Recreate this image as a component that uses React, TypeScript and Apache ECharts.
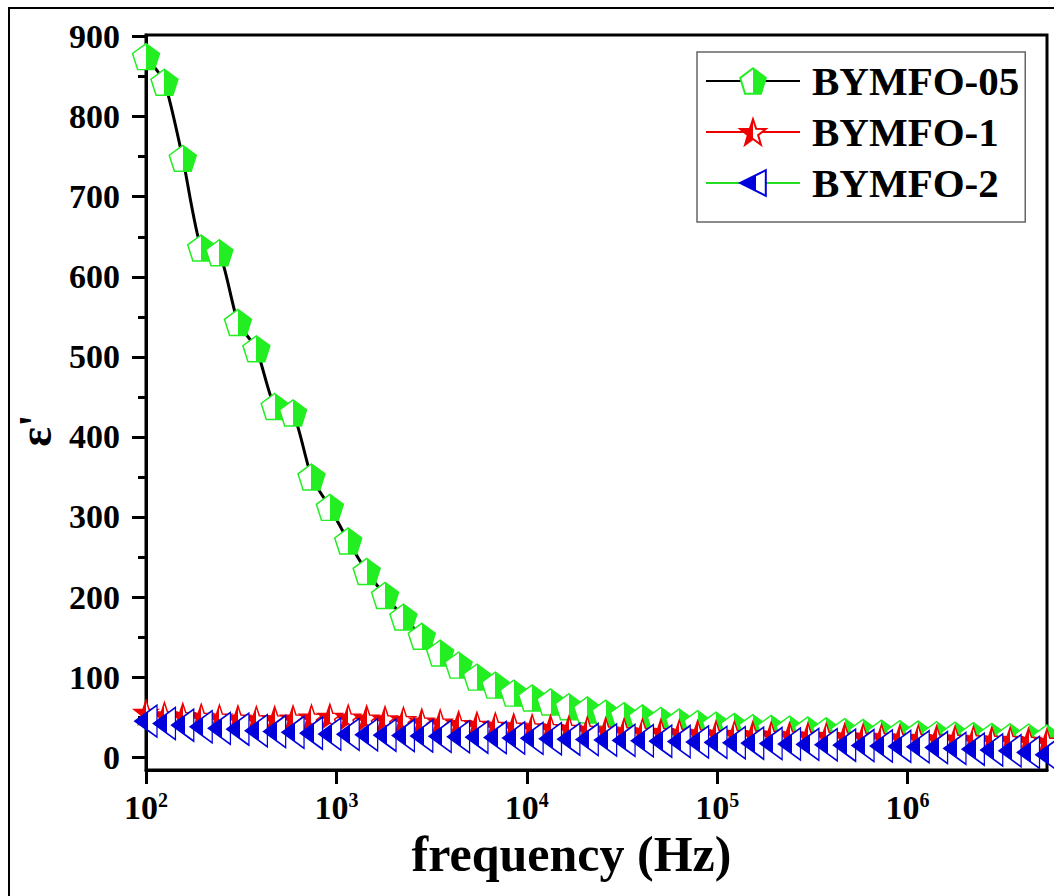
import React, { useEffect, useRef } from 'react';
import * as echarts from 'echarts';

// ---------------- data ----------------
const FREQUENCY_HZ = [
  100, 125, 156, 195, 243, 304, 380, 474, 592, 740,
  924, 1154, 1442, 1801, 2249, 2809, 3509, 4383, 5474, 6837,
  8540, 10667, 13323, 16641, 20785, 25961, 32426, 40500, 50585, 63181,
  78913, 98563, 123105, 153758, 192044, 239862, 299588, 374185, 467357, 583729,
  729078, 910618, 1137362, 1420565, 1774286, 2216083, 2767888, 3457092, 4317908, 5393067,
];

const BYMFO_05 = [
  875, 843, 748, 636, 630, 543, 510, 438, 430, 350,
  312, 270, 232, 202, 175, 151, 130, 115, 100, 90,
  80, 74, 69, 63, 59, 55, 52, 49, 46, 44,
  42, 40, 38.5, 37, 36, 35, 34, 33, 32, 31,
  30, 29.5, 29, 28, 27.5, 27, 26, 25.5, 25, 24,
];

const BYMFO_1 = [
  56, 53, 52, 51, 50, 49, 48, 48, 49, 50,
  51, 50, 49, 48, 47, 45, 44, 42, 41, 40,
  39, 38, 37, 36, 35, 34, 33, 32.5, 32, 31,
  30.5, 30, 29.5, 29, 28.5, 28, 27.5, 27, 26.5, 26,
  25.5, 25, 24.5, 24, 23.5, 23, 22.5, 22, 21, 20,
];

const BYMFO_2 = [
  45, 42, 40, 38, 36, 35, 33, 32, 31, 30,
  29, 28.5, 28, 27.5, 27, 26.5, 26, 25.5, 25, 24.5,
  24, 23.5, 23, 22.5, 22, 21.5, 21, 20.5, 20, 19.5,
  19, 18.5, 18, 17.5, 17, 16.5, 16, 15.5, 15, 14.5,
  14, 13.5, 13, 12, 11, 10, 9, 8, 6, 3,
];

const SERIES_NAMES = ['BYMFO-05', 'BYMFO-1', 'BYMFO-2'];
const X_TICKS = [100, 1000, 10000, 100000, 1000000];
const Y_TICKS = [0, 100, 200, 300, 400, 500, 600, 700, 800, 900];
const Y_MINOR_TICKS = [50, 150, 250, 350, 450, 550, 650, 750, 850];

// ---------------- styling ----------------
const SERIF = '"Liberation Serif", "Times New Roman", Times, serif';

const PENTAGON = 'path://M50 2 L97.6 36.5 L79.4 92.5 L20.6 92.5 L2.4 36.5 Z';
const STAR =
  'path://M50 2 L61.76 35.82 L97.55 36.55 L69.02 58.18 L79.39 92.45 L50 72 L20.61 92.45 L30.98 58.18 L2.45 36.55 L38.24 35.82 Z';
const TRIANGLE_LEFT = 'path://M0 50 L100 0 L100 100 Z';

// hard-stop horizontal gradient: one half coloured, other half white
const halfFill = (left: string, right: string, split: number) =>
  new echarts.graphic.LinearGradient(0, 0, 1, 0, [
    { offset: 0, color: left },
    { offset: split, color: left },
    { offset: split, color: right },
    { offset: 1, color: right },
  ]);

const GREEN = '#22ee22';
const RED = '#ee0000';
const BLUE = '#0000dd';

export default function App() {
  const ref = useRef<HTMLDivElement>(null);

  useEffect(() => {
    if (!ref.current) return;
    const chart = echarts.init(ref.current, undefined, { renderer: 'svg' });

    const pairs = (ys: number[]) => FREQUENCY_HZ.map((f, i) => [f, ys[i]]);

    const option: any = {
      animation: false,
      backgroundColor: '#ffffff',
      graphic: [
        {
          type: 'rect',
          silent: true,
          z: 100,
          shape: { x: 9, y: 8, width: 1300, height: 1000 },
          style: { fill: 'none', stroke: '#000', lineWidth: 2 },
        },
      ],
      grid: {
        left: 146,
        top: 35,
        right: 7,
        bottom: 126,
        show: true,
        borderColor: '#000',
        borderWidth: 3,
        backgroundColor: 'transparent',
      },
      legend: {
        orient: 'vertical',
        left: 697,
        top: 52,
        padding: [8, 6, 18, 8],
        itemWidth: 94,
        itemHeight: 32,
        itemGap: 9,
        backgroundColor: '#fff',
        borderColor: '#666',
        borderWidth: 1.5,
        data: SERIES_NAMES,
        textStyle: {
          fontSize: 41,
          fontWeight: 'bold',
          fontFamily: SERIF,
          color: '#000',
          lineHeight: 42,
          padding: [0, 0, 0, 7],
        },
      },
      xAxis: {
        type: 'log',
        logBase: 10,
        min: 100,
        max: 5.4e6,
        axisLine: { show: true, onZero: false, lineStyle: { color: '#000', width: 3 } },
        axisTick: {
          show: true,
          customValues: X_TICKS,
          length: 14,
          lineStyle: { color: '#000', width: 3 },
        },
        minorTick: { show: false },
        splitLine: { show: false },
        axisLabel: {
          customValues: X_TICKS,
          margin: 20,
          formatter: (v: number) => {
            const e = Math.round(Math.log10(v));
            if (Math.abs(Math.pow(10, e) - v) / v > 1e-6) return '';
            return '{b|10}{s|' + e + '}';
          },
          rich: {
            b: { fontSize: 34, fontWeight: 'bold', fontFamily: SERIF, color: '#000' },
            s: { fontSize: 20, fontWeight: 'bold', fontFamily: SERIF, color: '#000', verticalAlign: 'top' },
          },
        },
        name: 'frequency (Hz)',
        nameLocation: 'middle',
        nameGap: 33,
        nameTextStyle: {
          fontSize: 50,
          fontWeight: 'bold',
          fontFamily: SERIF,
          color: '#000',
          padding: [0, 50, 0, 0],
        },
      },
      yAxis: [
        {
          type: 'value',
          min: -16,
          max: 902,
          position: 'left',
          axisLine: { show: true, onZero: false, lineStyle: { color: '#000', width: 3 } },
          axisTick: {
            show: true,
            customValues: Y_TICKS,
            length: 14,
            lineStyle: { color: '#000', width: 3 },
          },
          splitLine: { show: false },
          axisLabel: {
            customValues: Y_TICKS,
            margin: 26,
            fontSize: 34,
            fontWeight: 'bold',
            fontFamily: SERIF,
            color: '#000',
            formatter: (v: number) => (Y_TICKS.indexOf(v) >= 0 ? String(v) : ''),
          },
          name: "ε'",
          nameLocation: 'middle',
          nameGap: 86,
          nameTextStyle: {
            fontSize: 46,
            fontWeight: 'bold',
            fontFamily: SERIF,
            color: '#000',
            padding: [0, 56, 0, 0],
          },
        },
        {
          type: 'value',
          min: -16,
          max: 902,
          position: 'left',
          offset: 0,
          axisLine: { show: false, onZero: false },
          axisTick: {
            show: true,
            customValues: Y_MINOR_TICKS,
            length: 8,
            lineStyle: { color: '#000', width: 3 },
          },
          axisLabel: { show: false },
          splitLine: { show: false },
        },
      ],
      series: [
        {
          name: SERIES_NAMES[0],
          type: 'line',
          data: pairs(BYMFO_05),
          symbol: PENTAGON,
          symbolSize: [27, 26],
          smooth: 0.2,
          itemStyle: { color: halfFill('#ffffff', GREEN, 0.5), borderColor: GREEN, borderWidth: 1.5 },
          lineStyle: { color: '#000', width: 3 },
        },
        {
          name: SERIES_NAMES[1],
          type: 'line',
          data: pairs(BYMFO_1),
          symbol: STAR,
          symbolSize: [24, 24],
          itemStyle: { color: halfFill(RED, '#ffffff', 0.5), borderColor: RED, borderWidth: 1.5 },
          lineStyle: { color: RED, width: 3 },
        },
        {
          name: SERIES_NAMES[2],
          type: 'line',
          data: pairs(BYMFO_2),
          symbol: TRIANGLE_LEFT,
          symbolSize: [22, 32],
          itemStyle: { color: halfFill(BLUE, '#ffffff', 0.6), borderColor: BLUE, borderWidth: 1.5 },
          lineStyle: { color: '#22dd22', width: 3 },
        },
      ],
    };

    chart.setOption(option);
    return () => chart.dispose();
  }, []);

  return (
    <div
      ref={ref}
      style={{ position: 'absolute', left: 0, top: 0, width: 1054, height: 896 }}
    />
  );
}
